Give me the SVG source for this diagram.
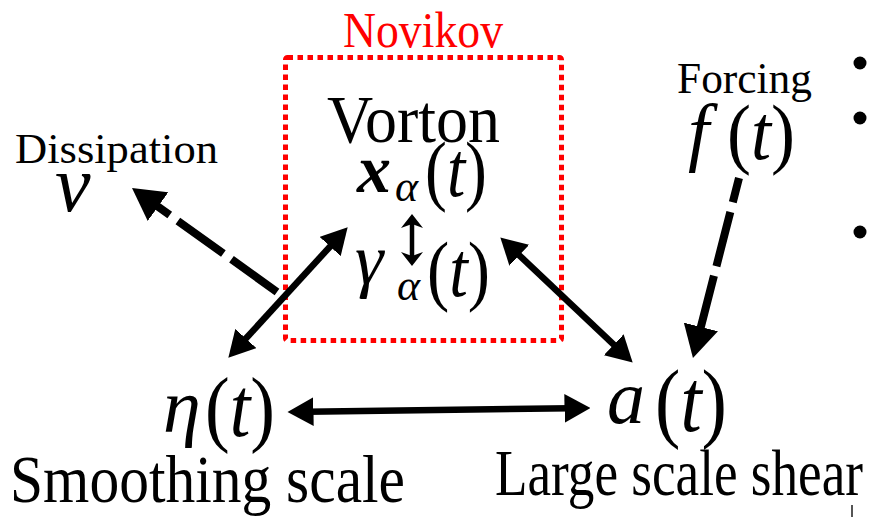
<svg xmlns="http://www.w3.org/2000/svg" width="871" height="517" viewBox="0 0 871 517">
<style>
text{font-family:"Liberation Serif","DejaVu Serif",serif;fill:#000}
.i{font-style:italic}
.conn{fill:none;stroke:#000}
.solid{stroke-width:6.5}
.dash{stroke-width:8;stroke-dasharray:56 10}
</style>
<defs>
<marker id="ah" markerUnits="strokeWidth" markerWidth="4" markerHeight="4.4" viewBox="0 0 4 4.4" refX="1" refY="2.2" orient="auto-start-reverse">
<path d="M0,0 L4,2.2 L0,4.4 z" fill="#000"/>
</marker>
<marker id="sh" markerUnits="userSpaceOnUse" markerWidth="14" markerHeight="22" viewBox="0 0 14 22" refX="4" refY="11" orient="auto-start-reverse">
<path d="M0,0 L14,11 L0,22 L4,11 z" fill="#000"/>
</marker>
</defs>
<rect width="871" height="517" fill="#fff"/>
<g id="novikov">
<rect x="285.5" y="57.5" width="276" height="283" rx="2" fill="none" stroke="#f00" stroke-width="5" stroke-dasharray="5.5 4.5"/>
<text x="343" y="47" font-size="50" textLength="160" lengthAdjust="spacingAndGlyphs" style="fill:#f00">Novikov</text>
</g>
<g id="vorton">
<text x="327" y="142" font-size="68" textLength="173" lengthAdjust="spacingAndGlyphs">Vorton</text>
<text x="357" y="192" font-size="68" class="i" font-weight="bold">x</text>
<text x="395" y="201" font-size="44" class="i">α</text>
<text x="425" y="196" font-size="78" textLength="62" lengthAdjust="spacingAndGlyphs">(<tspan class="i">t</tspan>)</text>
<text x="355" y="284" font-size="72" class="i">γ</text>
<text x="397" y="300" font-size="44" class="i">α</text>
<text x="427" y="296" font-size="78" textLength="63" lengthAdjust="spacingAndGlyphs">(<tspan class="i">t</tspan>)</text>
</g>
<g id="dissipation">
<text x="15" y="163" font-size="42" textLength="203" lengthAdjust="spacingAndGlyphs">Dissipation</text>
<text x="55" y="211" font-size="80" class="i">ν</text>
</g>
<g id="forcing">
<text x="677" y="93" font-size="44" textLength="135" lengthAdjust="spacingAndGlyphs">Forcing</text>
<text x="688" y="157" font-size="76" class="i">f</text>
<text x="727" y="159" font-size="78" textLength="68" lengthAdjust="spacingAndGlyphs">(<tspan class="i">t</tspan>)</text>
</g>
<g id="smoothing">
<text x="163" y="432" font-size="76" class="i">η</text>
<text x="205" y="436" font-size="84" textLength="70" lengthAdjust="spacingAndGlyphs">(<tspan class="i">t</tspan>)</text>
<text x="10" y="502" font-size="68" textLength="395" lengthAdjust="spacingAndGlyphs">Smoothing scale</text>
</g>
<g id="shear">
<text x="607" y="423" font-size="76" class="i">a</text>
<text x="655" y="431" font-size="88" textLength="72" lengthAdjust="spacingAndGlyphs">(<tspan class="i">t</tspan>)</text>
<text x="495" y="495" font-size="66" textLength="368" lengthAdjust="spacingAndGlyphs">Large scale shear</text>
</g>
<g id="bullets">
<circle cx="860" cy="63" r="6.5"/>
<circle cx="860" cy="118" r="6.5"/>
<circle cx="860" cy="232" r="6.5"/>
<line x1="852" y1="505" x2="852" y2="517" stroke="#555" stroke-width="2"/>
</g>
<g id="connectors">
<path class="conn solid" d="M241.5,343.3 L334.5,241.7" marker-start="url(#ah)" marker-end="url(#ah)"/>
<path class="conn solid" d="M514.5,250.8 L618.5,349.2" marker-start="url(#ah)" marker-end="url(#ah)"/>
<path class="conn solid" d="M307,411.7 L571,408.3" marker-start="url(#ah)" marker-end="url(#ah)"/>
<path class="conn dash" d="M277,292 L151.5,202" marker-end="url(#ah)"/>
<path class="conn dash" d="M739,178 L698.9,334.7" stroke-dashoffset="31" marker-end="url(#ah)"/>
<path class="conn" stroke-width="4.5" d="M412,224 L412,256" marker-start="url(#sh)" marker-end="url(#sh)"/>
</g>
</svg>
